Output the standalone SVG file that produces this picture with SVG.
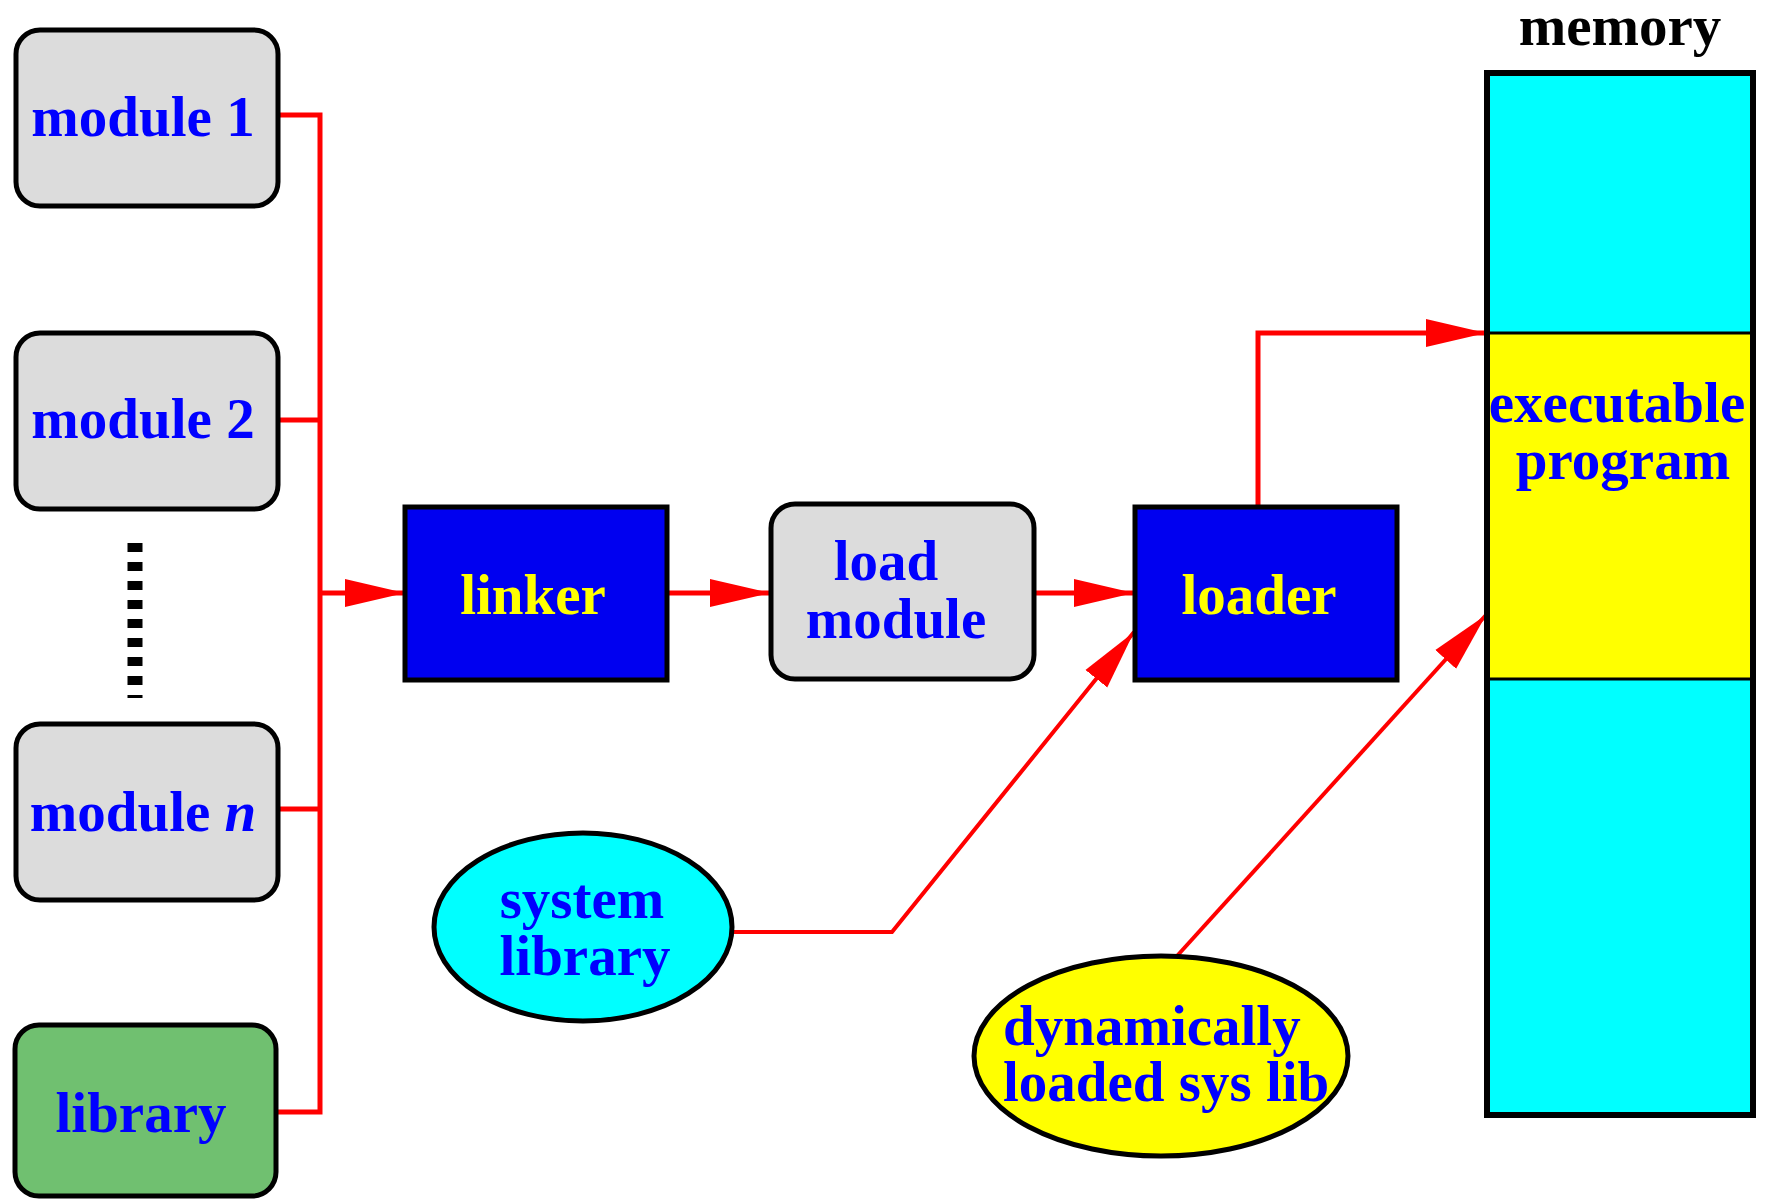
<svg xmlns="http://www.w3.org/2000/svg" width="1766" height="1199" viewBox="0 0 1766 1199">
  <style>
    .lbl { font-family: "Liberation Serif", "Times New Roman", serif; font-weight: bold; font-size: 57px; text-anchor: middle; }
    .lbl.left { text-anchor: start; }
    .blue { fill: #0000ff; }
    .yel { fill: #ffff00; }
    .box { stroke: #000; stroke-width: 5; }
    .gray { fill: #dcdcdc; }
    .wire { fill: none; stroke: #ff0000; stroke-width: 5; }
    .thin { fill: none; stroke: #ff0000; stroke-width: 4; }
  </style>
  <defs>
    <marker id="head" markerUnits="userSpaceOnUse" markerWidth="60" markerHeight="32" refX="60" refY="16" orient="auto">
      <path d="M0,2 L60,16 L0,30 z" fill="#ff0000"/>
    </marker>
  </defs>

  <rect width="1766" height="1199" fill="#ffffff"/>

  <!-- connectors -->
  <g id="connectors">
    <polyline class="wire" points="278,115 320,115 320,1112 278,1112"/>
    <line class="wire" x1="278" y1="420" x2="320" y2="420"/>
    <line class="wire" x1="278" y1="809" x2="320" y2="809"/>
    <line class="wire" x1="320" y1="593" x2="405" y2="593" marker-end="url(#head)"/>
    <line class="wire" x1="667" y1="593" x2="770" y2="593" marker-end="url(#head)"/>
    <line class="wire" x1="1034" y1="593" x2="1134" y2="593" marker-end="url(#head)"/>
    <polyline class="wire" points="1258,507 1258,333 1486,333" marker-end="url(#head)"/>
    <polyline class="thin" points="732,932 892,932 1134,632" marker-end="url(#head)"/>
    <line class="thin" x1="1177" y1="956" x2="1486" y2="615" marker-end="url(#head)"/>
  </g>

  <!-- source modules -->
  <g id="module1">
    <rect class="box gray" x="16" y="30" width="262" height="176" rx="24"/>
    <text class="lbl blue" x="143" y="136">module 1</text>
  </g>
  <g id="module2">
    <rect class="box gray" x="16" y="333" width="262" height="176" rx="24"/>
    <text class="lbl blue" x="143" y="438">module 2</text>
  </g>
  <g id="ellipsis">
    <line x1="135" y1="543" x2="135" y2="698" stroke="#000" stroke-width="15" stroke-dasharray="9,10"/>
  </g>
  <g id="modulen">
    <rect class="box gray" x="16" y="724" width="262" height="176" rx="24"/>
    <text class="lbl blue" x="143" y="831">module <tspan font-style="italic">n</tspan></text>
  </g>
  <g id="library">
    <rect class="box" x="15" y="1025" width="261" height="171" rx="24" fill="#70c070"/>
    <text class="lbl blue" x="141" y="1132">library</text>
  </g>

  <!-- processing stages -->
  <g id="linker">
    <rect class="box" x="405" y="507" width="262" height="173" fill="#0000f0"/>
    <text class="lbl yel" x="533" y="614">linker</text>
  </g>
  <g id="loadmodule">
    <rect class="box gray" x="771" y="504" width="263" height="175" rx="24"/>
    <text class="lbl blue" x="886" y="580">load</text>
    <text class="lbl blue" x="896" y="638">module</text>
  </g>
  <g id="loader">
    <rect class="box" x="1135" y="507" width="262" height="173" fill="#0000f0"/>
    <text class="lbl yel" x="1259" y="614">loader</text>
  </g>

  <!-- libraries resolved at load / run time -->
  <g id="syslib">
    <ellipse class="box" cx="583" cy="927" rx="149" ry="94" fill="#00ffff"/>
    <text class="lbl blue" x="582" y="918">system</text>
    <text class="lbl blue" x="585" y="975">library</text>
  </g>
  <g id="dynlib">
    <ellipse class="box" cx="1161" cy="1056" rx="187" ry="100" fill="#ffff00"/>
    <text class="lbl left blue" x="1003" y="1045">dynamically</text>
    <text class="lbl left blue" x="1003" y="1101">loaded sys lib</text>
  </g>

  <!-- memory column -->
  <g id="memory">
    <text class="lbl" x="1620" y="45" fill="#000">memory</text>
    <rect x="1487" y="73" width="266" height="1042" fill="#00ffff"/>
    <rect x="1487" y="333" width="266" height="346" fill="#ffff00"/>
    <line x1="1487" y1="333" x2="1753" y2="333" stroke="#000" stroke-width="3"/>
    <line x1="1487" y1="679" x2="1753" y2="679" stroke="#000" stroke-width="3"/>
    <rect x="1487" y="73" width="266" height="1042" fill="none" stroke="#000" stroke-width="6"/>
    <text class="lbl blue" x="1617" y="422">executable</text>
    <text class="lbl blue" x="1623" y="479">program</text>
  </g>
</svg>
